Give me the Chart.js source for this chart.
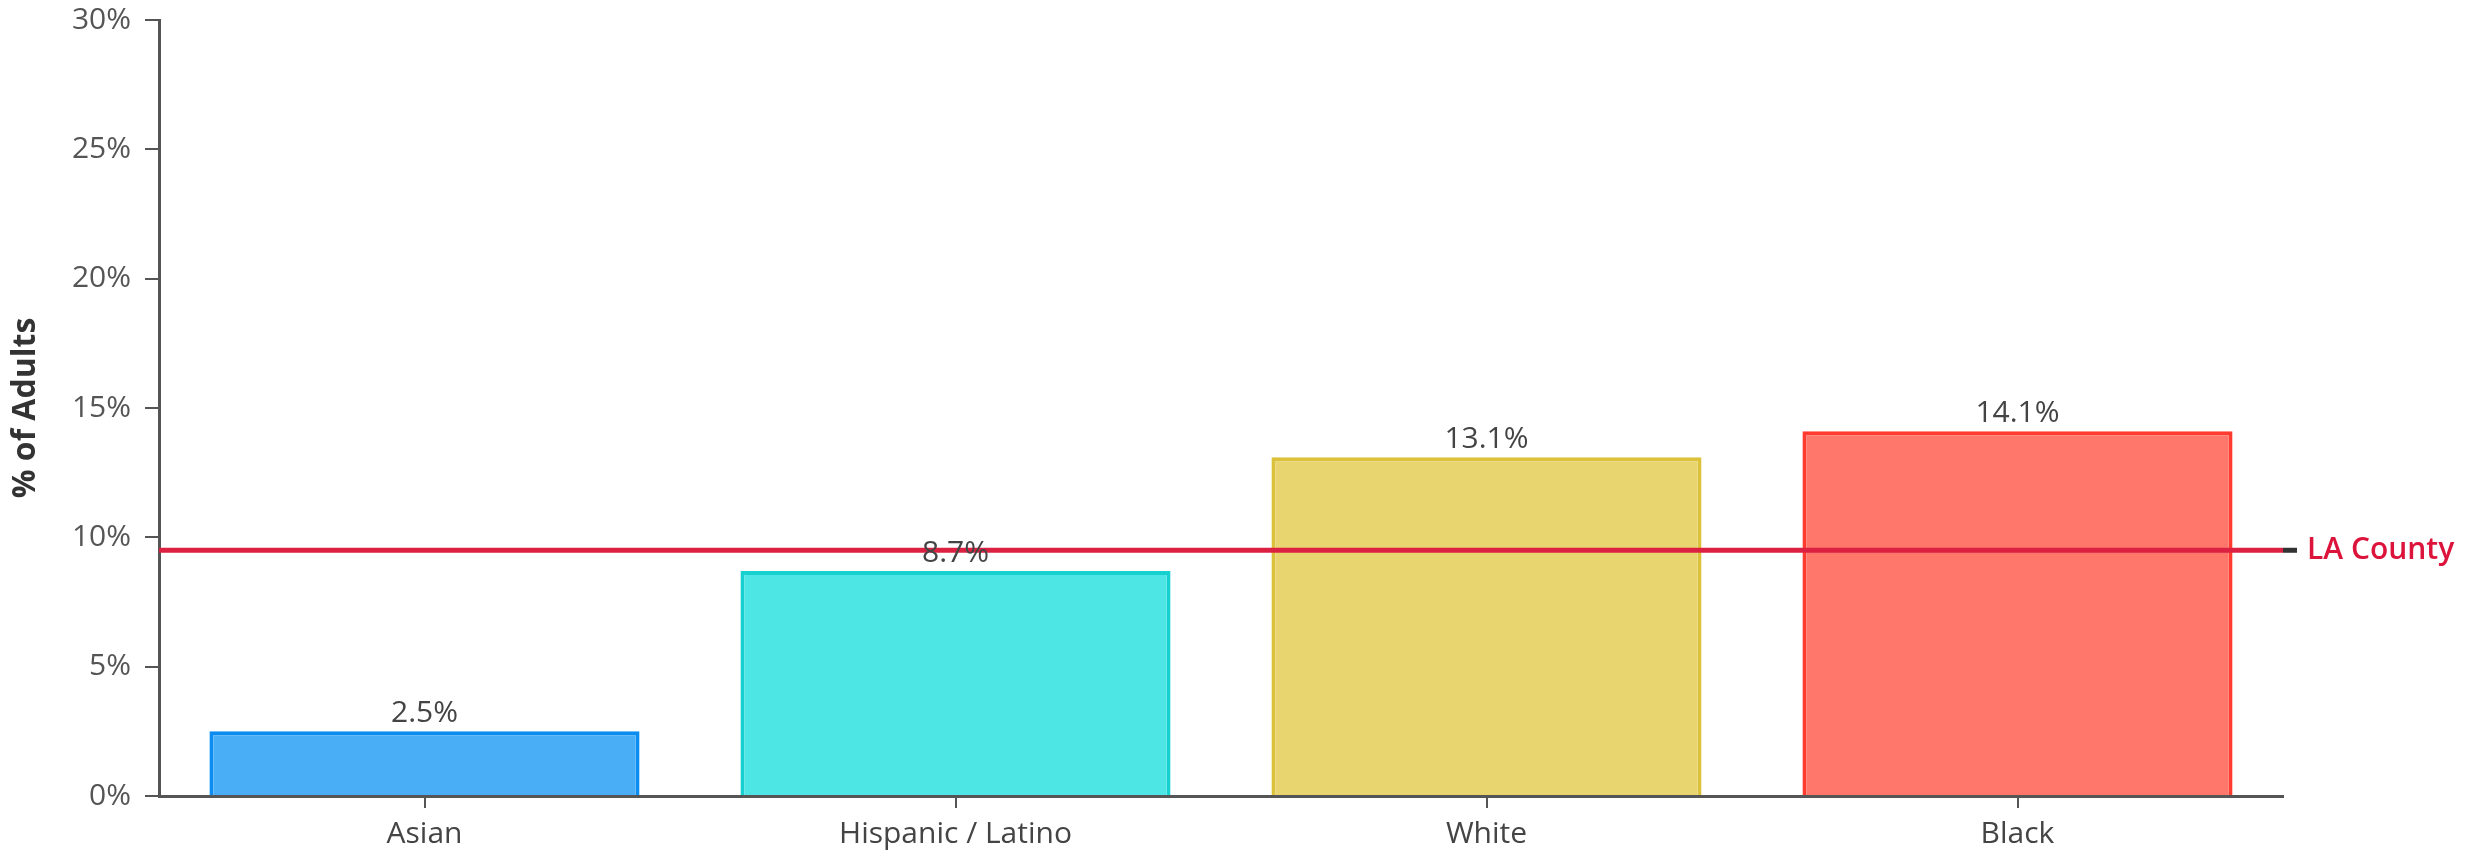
<!DOCTYPE html>
<html>
<head>
<meta charset="utf-8">
<script src="https://cdn.jsdelivr.net/npm/chart.js@4.4.0/dist/chart.umd.min.js"></script>
<style>
  html, body { margin: 0; padding: 0; background: #fff; }
  #wrap { width: 2476px; height: 863px; }
</style>
</head>
<body>
<div id="wrap"><canvas id="bar-chart"></canvas></div>
<script>
var groups = ['Asian', 'Hispanic / Latino', 'White', 'Black'];
var pctAdults = [2.5, 8.7, 13.1, 14.1];
var laCounty = [9.5];
var laCountyLabel = ['LA County'];

var fills = ['#4aaef6', '#4de6e4', '#e8d570', '#ff766b'];
var borders = ['#0a8cf0', '#17d1d1', '#dcc13a', '#ff3b30'];

var fontFam = '"Open Sans", "Noto Sans", sans-serif';

// county reference line + its label, drawn over the bars
const countyLine = {
    id: 'countyLine',
    afterDatasetsDraw(chart) {
        const ctx = chart.ctx;
        const area = chart.chartArea;
        const y = chart.scales.y.getPixelForValue(laCounty[0]);
        ctx.save();
        ctx.strokeStyle = '#dc2042';
        ctx.lineWidth = 5;
        ctx.beginPath();
        ctx.moveTo(area.left, y);
        ctx.lineTo(area.right, y);
        ctx.stroke();
        ctx.strokeStyle = '#333';
        ctx.beginPath();
        ctx.moveTo(area.right, y);
        ctx.lineTo(area.right + 14, y);
        ctx.stroke();
        ctx.fillStyle = '#dc143c';
        ctx.font = '600 30px ' + fontFam;
        ctx.textBaseline = 'middle';
        ctx.textAlign = 'left';
        ctx.fillText(laCountyLabel[0], area.right + 24, y);
        ctx.restore();
    }
};

// value labels above bars
const valueLabels = {
    id: 'valueLabels',
    afterDatasetsDraw(chart) {
        const ctx = chart.ctx;
        const meta = chart.getDatasetMeta(0);
        ctx.save();
        ctx.fillStyle = '#444';
        ctx.font = '30px ' + fontFam;
        ctx.textAlign = 'center';
        ctx.textBaseline = 'bottom';
        meta.data.forEach(function (bar, i) {
            ctx.fillText(pctAdults[i].toFixed(1) + '%', bar.x, bar.y - 3);
        });
        ctx.restore();
    }
};

const ctx = document.getElementById('bar-chart').getContext('2d');

const chart = new Chart(ctx, {
    type: 'bar',
    data: {
        labels: groups,
        datasets: [
            {
                label: '% of Adults',
                data: pctAdults,
                backgroundColor: fills,
                borderColor: borders,
                borderWidth: 4,
                categoryPercentage: 0.81,
                barPercentage: 1.0
            }
        ]
    },
    options: {
        responsive: true,
        maintainAspectRatio: false,
        animation: false,
        layout: { padding: { top: 20, right: 193, bottom: 0, left: 0 } },
        plugins: {
            legend: { display: false },
            tooltip: { enabled: false }
        },
        scales: {
            x: {
                z: 1,
                grid: { drawOnChartArea: false, offset: false, tickLength: 12, color: '#555', lineWidth: 2 },
                border: { color: '#555', width: 3 },
                ticks: { color: '#444', font: { family: fontFam, size: 30 }, padding: 8 },
                afterFit: function (scale) { scale.height = 67; }
            },
            y: {
                z: 1,
                min: 0,
                max: 30,
                grid: { drawOnChartArea: false, tickLength: 14, color: '#555', lineWidth: 2 },
                border: { color: '#555', width: 3 },
                ticks: {
                    stepSize: 5,
                    color: '#555',
                    padding: 14,
                    font: { family: fontFam, size: 30 },
                    callback: function (v) { return v + '%'; }
                },
                title: {
                    display: true,
                    text: '% of Adults',
                    color: '#333',
                    padding: { top: 7, bottom: 0 },
                    font: { family: fontFam, size: 32, weight: 'bold' }
                },
                afterFit: function (scale) {
                    scale.width = 159;
                    scale.paddingTop = 0;
                    scale.paddingBottom = 0;
                }
            }
        }
    },
    plugins: [countyLine, valueLabels]
});
</script>
</body>
</html>
